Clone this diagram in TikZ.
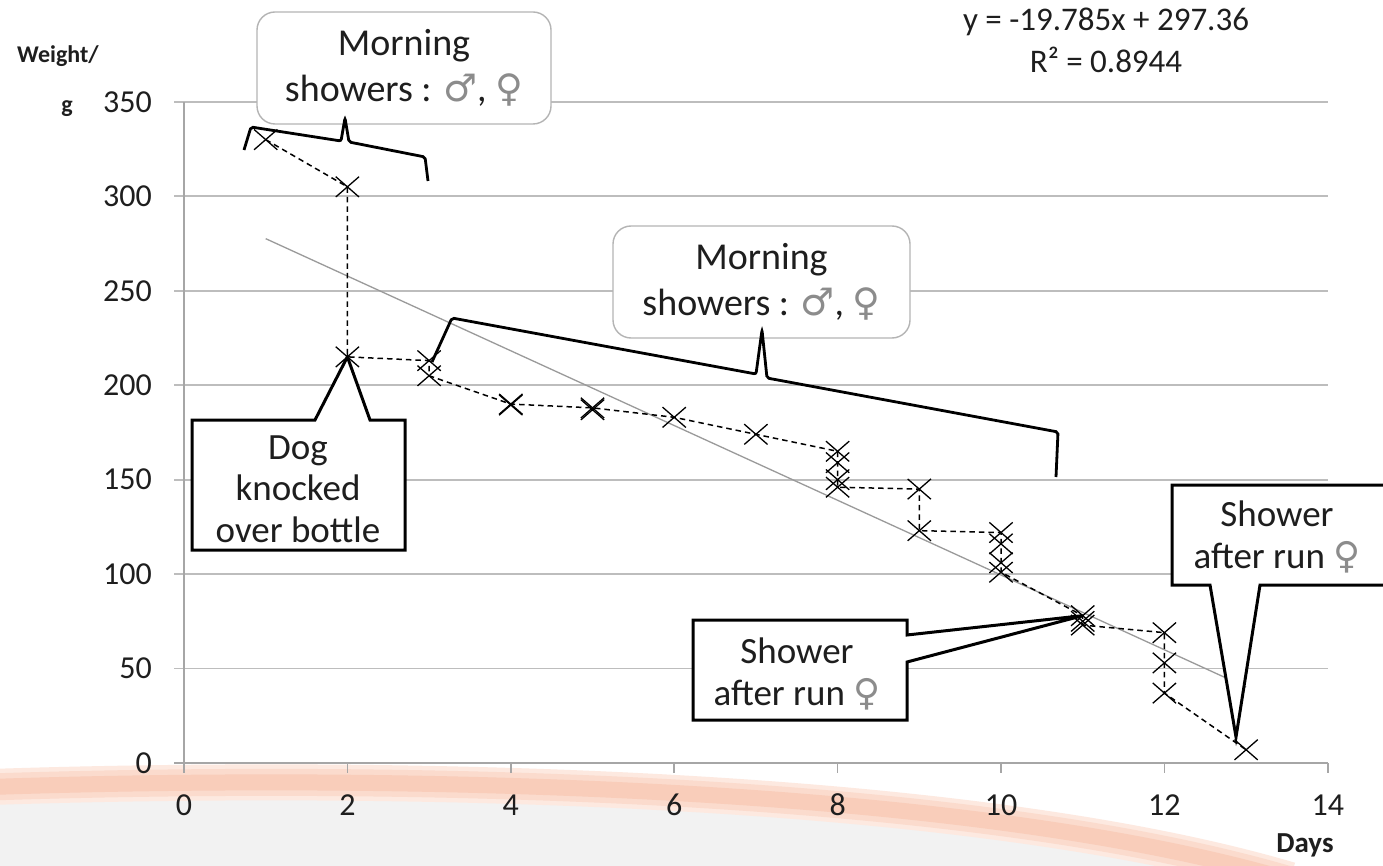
\documentclass[tikz,border=0pt]{standalone}
\usepackage{fontspec}
\setmainfont{Carlito}
\newfontfamily\symfont{DejaVu Sans}
\usetikzlibrary{shapes.misc}
\definecolor{gridgray}{HTML}{BDBDBD}
\definecolor{axisgray}{HTML}{A6A6A6}
\definecolor{trendgray}{HTML}{9A9A9A}
\definecolor{boxgray}{HTML}{B4B4B4}
\definecolor{symgray}{HTML}{8C8C8C}
\definecolor{swooshA}{HTML}{FDE9E0}
\definecolor{swooshB}{HTML}{FBDBCD}
\definecolor{swooshC}{HTML}{F9CDBA}
\definecolor{floorgray}{HTML}{F2F2F2}
\definecolor{inkc}{HTML}{1E1E1E}
% gender symbols set in a font that has them
\newcommand{\sexM}{{\symfont\color{symgray}\char"2642}}
\newcommand{\sexF}{{\symfont\color{symgray}\char"2640}}
\begin{document}
\begin{tikzpicture}[x=1pt, y=-1pt,
  every node/.style={text=inkc},
  gridline/.style={draw=gridgray, line width=1.8pt},
  axisline/.style={draw=axisgray, line width=1.6pt},
  trendline/.style={draw=trendgray, line width=1.3pt},
  dataline/.style={draw=black, line width=1.5pt, dash pattern=on 5.5pt off 4pt},
  xmark/.style={cross out, draw=black, line width=1.3pt, inner sep=0pt,
    minimum width=22pt, minimum height=19pt},
  roundbox/.style={draw=boxgray, line width=1.4pt, fill=white,
    rounded corners=18pt, align=center, inner sep=0pt,
    font=\fontsize{38}{46}\selectfont},
  pointbox/.style={draw=black, line width=3pt, fill=white, line join=miter},
  calltext/.style={align=center, inner sep=0pt, font=\fontsize{37}{41.5}\selectfont},
  bracepath/.style={draw=black, line width=2.8pt, rounded corners=2pt},
  ticklabel/.style={inner sep=0pt, font=\fontsize{32}{36}\selectfont},
  axislabel/.style={inner sep=0pt, font=\fontsize{24}{30}\bfseries\selectfont},
  eqlabel/.style={inner sep=0pt, font=\fontsize{33}{40}\selectfont},
  swoosh/.style={line cap=butt}]

\useasboundingbox (0,0) rectangle (1383,866);
\clip (0,0) rectangle (1383,866);
\fill[white] (0,0) rectangle (1383,866);

% slide background: grey floor and soft peach swoosh
\fill[floorgray] (-10,787) .. controls (350,775) and (950,780) .. (1290,880)
  -- (1290,900) -- (-10,900) -- cycle;
\draw[swoosh, swooshA, line width=36pt] (-10,787) .. controls (350,775) and (950,780) .. (1290,880);
\draw[swoosh, swooshB, line width=27pt] (-10,787) .. controls (350,775) and (950,780) .. (1290,880);
\draw[swoosh, swooshC, line width=16pt] (-10,787) .. controls (350,775) and (950,780) .. (1290,880);

% chart in data units: days along x, grams along y
\begin{scope}[shift={(184pt,-763pt)}, x=81.7pt, y=1.889pt]
  \foreach \w in {50,100,...,350}
    \draw[gridline] (0,\w) ++(-10pt,0pt) -- (14,\w);
  \draw[axisline] (0,0) ++(-10pt,0pt) -- (14,0);
  \draw[axisline] (0,0) -- (0,350);
  \foreach \d in {0,2,...,14}
    \draw[axisline] (\d,0) -- ++(0pt,-10pt);

  % tick labels
  \foreach \w in {0,50,...,350}
    \node[ticklabel, anchor=east] (yl\w) at ([xshift=-32pt]0,\w) {\w};
  \foreach \d in {0,2,...,14}
    \node[ticklabel] (xl\d) at ([yshift=-42pt]\d,0) {\d};

  % least-squares line
  \coordinate (tr1) at (1,277.575);
  \coordinate (tr2) at (13,40.155);
  \draw[trendline] (tr1) -- (tr2);

  % measurements
  \foreach \n/\d/\w in {1/1/330, 2/2/305, 3/2/215, 4/3/213, 5/3/205, 6/4/190,
      7/5/188, 8/6/183, 9/7/174, 10/8/165, 11/8/159, 12/8/150, 13/8/146,
      14/9/145, 15/9/123, 16/10/122, 17/10/116, 18/10/106, 19/10/101,
      20/11/78, 21/11/75, 22/11/73, 23/12/69, 24/12/53, 25/12/37, 26/13/7}
    \coordinate (c\n) at (\d,\w);
  \draw[dataline] (c1) -- (c2) -- (c3) -- (c4) -- (c5) -- (c6) -- (c7) -- (c8)
    -- (c9) -- (c10) -- (c11) -- (c12) -- (c13) -- (c14) -- (c15) -- (c16)
    -- (c17) -- (c18) -- (c19) -- (c20) -- (c21) -- (c22) -- (c23) -- (c24)
    -- (c25) -- (c26);
  \foreach \n in {1,...,26}
    \node[xmark] (a\n) at (c\n) {};
  \node[xmark] (a7b) at (5,187) {};
  \node[xmark] (a6b) at (4,189.5) {};
\end{scope}

% axis titles
\node[axislabel, anchor=west] (ytitle) at (17,56) {Weight/};
\node[axislabel, anchor=base] (yunit) at (67,113) {g};
\node[axislabel, font=\fontsize{29}{34}\bfseries\selectfont] (xtitle) at (1305,845) {Days};

% fitted equation
\node[eqlabel] (eq1) at (1106,22) {y = -19.785x + 297.36};
\node[eqlabel] (eq2) at (1106,60) {R² = 0.8944};

% rounded notes with braces
\node[roundbox, minimum width=294pt, minimum height=112pt] (note1) at (404,68)
  {Morning\\showers : \sexM, \sexF};
\draw[bracepath] (244,150) -- (251,127) -- (341,141) -- (345,118) -- (349,142)
  -- (425,157) -- (428,181);

\node[roundbox, minimum width=297pt, minimum height=112pt] (note2) at (761.5,282)
  {Morning\\showers : \sexM, \sexF};
\draw[bracepath] (432,362) -- (452,318) -- (756,374) -- (762,330) -- (767,378)
  -- (1058,432) -- (1056,477);

% boxed callouts with pointers
\draw[pointbox] (192,420) -- (315,420) -- (a3.center) -- (370,420) -- (405,420)
  -- (405,550) -- (192,550) -- cycle;
\node[calltext] (dog) at (298,489) {Dog\\knocked\\over bottle};

\draw[pointbox] (693,620) -- (907,620) -- (907,635) -- (a20.center) -- (907,662)
  -- (907,720) -- (693,720) -- cycle;
\node[calltext] (run1) at (797,674) {Shower\\after run \sexF};

\coordinate (tipB) at (1236,737);
\draw[pointbox] (1172,485) -- (1400,485) -- (1400,585) -- (1260,585) -- (tipB)
  -- (1210,585) -- (1172,585) -- cycle;
\node[calltext] (run2) at (1277,537) {Shower\\after run \sexF};

\end{tikzpicture}
\end{document}
